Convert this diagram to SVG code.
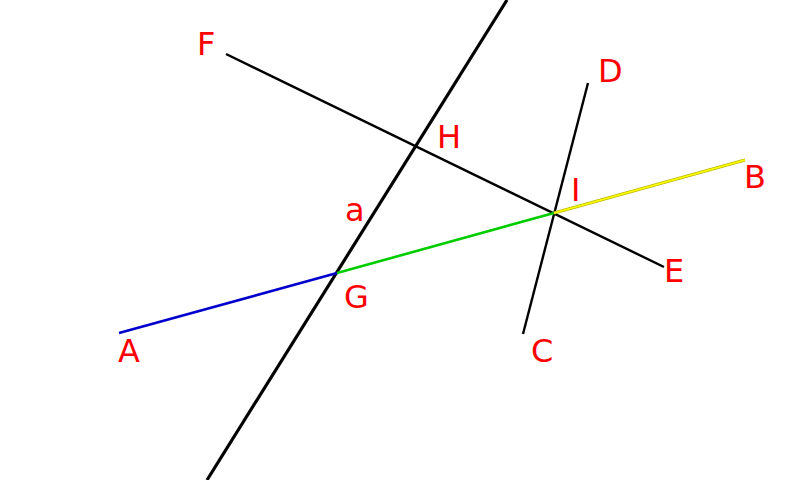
<svg xmlns="http://www.w3.org/2000/svg" width="800" height="480" viewBox="0 0 800 480">
<style>
.l{stroke:#000;stroke-width:2.4;fill:none}
.t{fill:#ff0000;font-family:"DejaVu Sans",sans-serif;font-size:32px}
</style>
<rect width="800" height="480" fill="#fff"/>
<g id="connectors">
<line class="l" x1="507" y1="0" x2="207" y2="480" style="stroke-width:3.2"/>
<line class="l" x1="226" y1="54" x2="664" y2="267"/>
<line class="l" x1="523" y1="334" x2="588" y2="83"/>
<line x1="119" y1="333" x2="337" y2="273" stroke="#0000cc" stroke-width="2.6"/>
<line x1="337" y1="273" x2="554" y2="213" stroke="#00cc00" stroke-width="2.6"/>
<line x1="554" y1="213" x2="745" y2="160" stroke="#b8b800" stroke-width="3"/>
<line x1="554" y1="213" x2="745" y2="160" stroke="#ffff00" stroke-width="1.6"/>
</g>
<g id="A"><text class="t" x="118" y="362">A</text></g>
<g id="B"><text class="t" x="744" y="188">B</text></g>
<g id="C"><text class="t" x="531" y="362">C</text></g>
<g id="D"><text class="t" x="598" y="82">D</text></g>
<g id="E"><text class="t" x="664" y="282">E</text></g>
<g id="F"><text class="t" x="197" y="55">F</text></g>
<g id="G"><text class="t" x="344" y="308">G</text></g>
<g id="H"><text class="t" x="437" y="148">H</text></g>
<g id="I"><text class="t" x="571" y="201">I</text></g>
<g id="a"><text class="t" x="345" y="221">a</text></g>
</svg>
